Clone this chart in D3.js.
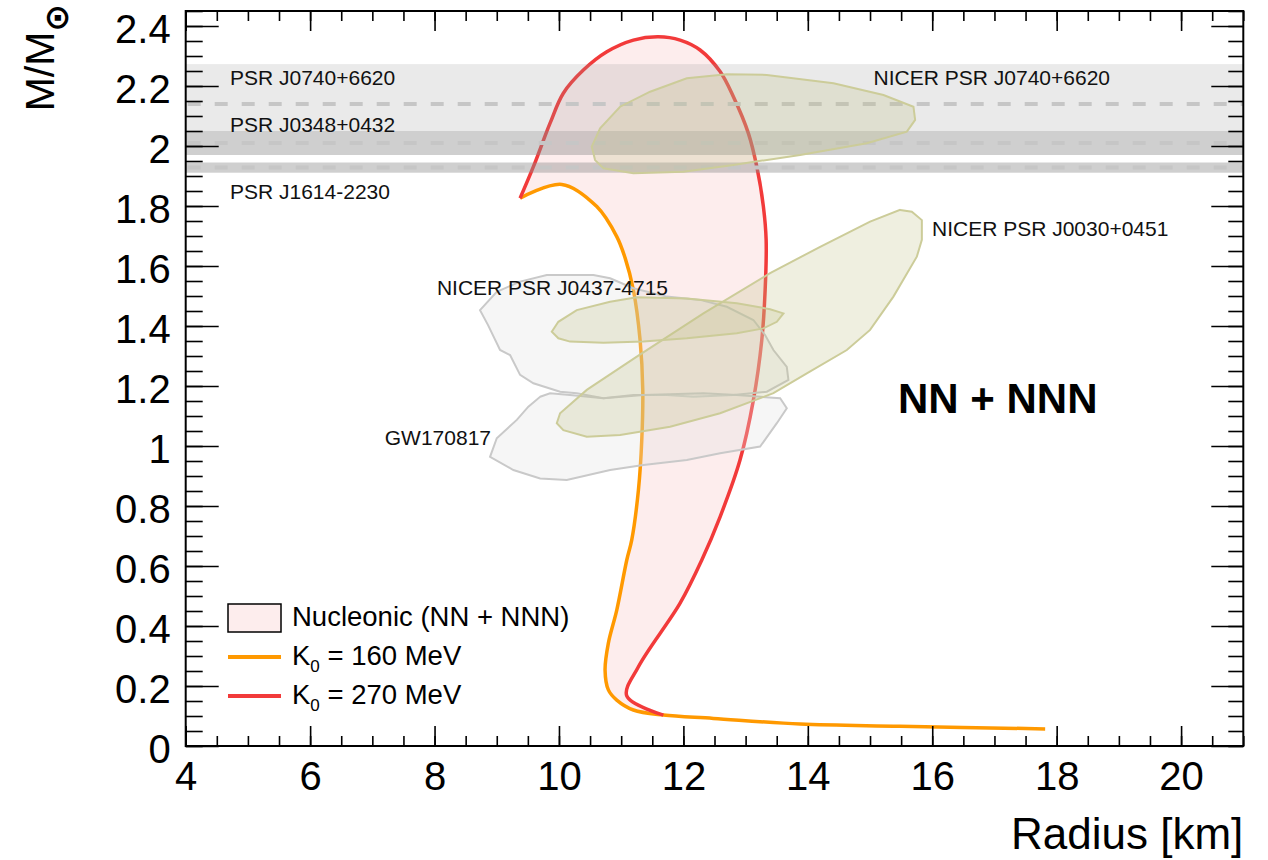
<!DOCTYPE html>
<html>
<head>
<meta charset="utf-8">
<script src="https://cdn.jsdelivr.net/npm/d3@7"></script>
<style>
  body { margin: 0; background: #fff; }
  svg { display: block; font-family: 'Liberation Sans', Arial, Helvetica, sans-serif; }
  .lbl { font-size: 21px; fill: #111; }
  .tick text { font-size: 40px; fill: #000; }
</style>
</head>
<body>
<div id="chart"></div>
<script>
// mass-radius curves, [radius km, mass Msun]
const curveK160 = [
  [9.375, 1.826], [10.045, 1.872], [10.608, 1.798], [10.929, 1.698], [11.063, 1.627],
  [11.196, 1.52], [11.304, 1.353], [11.347, 1.187], [11.331, 1.02], [11.277, 0.853],
  [11.17, 0.687], [11.09, 0.62], [10.929, 0.453], [10.794, 0.343], [10.741, 0.253],
  [10.794, 0.187], [10.929, 0.153], [11.196, 0.12], [11.678, 0.103], [12.482, 0.092],
  [13.876, 0.073], [15.48, 0.066], [17.815, 0.057],
];
const curveK270 = [
  [11.678, 0.103], [11.09, 0.167], [11.277, 0.264], [11.947, 0.476], [12.296, 0.62],
  [12.59, 0.764], [12.91, 0.953], [13.125, 1.153], [13.26, 1.353], [13.314, 1.52],
  [13.33, 1.687], [13.286, 1.798], [13.18, 1.931], [13.045, 2.042], [12.804, 2.164],
  [12.59, 2.248], [12.268, 2.32], [11.947, 2.353], [11.598, 2.364], [11.196, 2.353],
  [10.769, 2.314], [10.392, 2.253], [10.07, 2.176], [9.857, 2.076], [9.589, 1.931],
  [9.375, 1.826],
];

// GW170817 contours
const gwUpper = [
  [8.731, 1.453], [9.0, 1.514], [9.375, 1.548], [9.804, 1.57], [10.553, 1.57], [10.822, 1.559],
  [11.196, 1.526], [11.733, 1.498], [12.268, 1.487], [12.698, 1.464], [13.125, 1.42],
  [13.313, 1.37], [13.447, 1.32], [13.662, 1.264], [13.688, 1.22], [13.341, 1.181],
  [12.804, 1.17], [12.161, 1.164], [11.733, 1.17], [11.196, 1.17], [10.714, 1.159],
  [10.286, 1.176], [10.018, 1.181], [9.589, 1.209], [9.375, 1.237], [9.214, 1.303],
  [9.053, 1.32], [8.86, 1.403],
];
const gwLower = [
  [9.697, 1.164], [9.857, 1.176], [10.178, 1.17], [10.714, 1.159], [11.357, 1.17],
  [12.322, 1.176], [12.859, 1.17], [13.555, 1.159], [13.662, 1.126], [13.502, 1.076],
  [13.233, 0.998], [12.59, 0.976], [12.055, 0.953], [11.357, 0.937], [10.822, 0.92],
  [10.125, 0.887], [9.697, 0.892], [9.267, 0.92], [8.892, 0.964], [9.0, 1.026],
  [9.322, 1.087], [9.508, 1.131],
];

// NICER contours
const nicerJ0740 = [
  [10.527, 1.998], [10.661, 2.059], [10.982, 2.131], [11.465, 2.181], [12.055, 2.226],
  [12.698, 2.239], [13.341, 2.237], [14.412, 2.209], [15.216, 2.17], [15.698, 2.131],
  [15.725, 2.087], [15.592, 2.048], [14.949, 2.009], [13.876, 1.97], [12.804, 1.937],
  [12.0, 1.914], [11.196, 1.909], [10.714, 1.926], [10.58, 1.953],
];
const nicerJ0030 = [
  [15.484, 1.787], [15.672, 1.781], [15.833, 1.753], [15.833, 1.687], [15.752, 1.631],
  [15.376, 1.498], [15.001, 1.387], [14.627, 1.32], [13.984, 1.242], [13.447, 1.176],
  [12.59, 1.109], [11.786, 1.064], [10.982, 1.037], [10.447, 1.031], [10.071, 1.053],
  [9.965, 1.076], [10.018, 1.109], [10.447, 1.187], [11.251, 1.298], [12.322, 1.442],
  [13.394, 1.576], [14.198, 1.664], [15.001, 1.748],
];
const nicerJ0437 = [
  [9.884, 1.381], [9.99, 1.414], [10.286, 1.453], [10.822, 1.481], [11.251, 1.496],
  [12.055, 1.492], [12.859, 1.476], [13.394, 1.456], [13.608, 1.442], [13.502, 1.414],
  [13.286, 1.392], [12.859, 1.376], [12.055, 1.359], [11.357, 1.348], [10.714, 1.344],
  [10.178, 1.348], [9.99, 1.359],
];

// pulsar mass measurements
const bandNames = ['PSR J0740+6620', 'PSR J0348+0432', 'PSR J1614-2230'];
const bandCenters = [2.14, 2.01, 1.928];
const bandLow = [2.05, 1.97, 1.911];
const bandHigh = [2.273, 2.05, 1.945];

const xMajorTicks = [4, 6, 8, 10, 12, 14, 16, 18, 20];
const yMajorTicks = [0, 0.2, 0.4, 0.6, 0.8, 1, 1.2, 1.4, 1.6, 1.8, 2, 2.2, 2.4];

const W = 1268;
const H = 860;
const frameLeft = 185.7;
const frameRight = 1243.3;
const frameTop = 11;
const frameBottom = 746;

const x = d3.scaleLinear().domain([4, 21]).range([frameLeft, frameRight]);
const y = d3.scaleLinear().domain([0, 2.45]).range([frameBottom, frameTop]);

const svg = d3.select('#chart').append('svg')
  .attr('width', W)
  .attr('height', H);

const smooth = d3.line().x(d => x(d[0])).y(d => y(d[1])).curve(d3.curveCatmullRom);
const closed = d3.line().x(d => x(d[0])).y(d => y(d[1])).curve(d3.curveLinearClosed);

const plot = svg.append('g');

// nucleonic band between the two curves
const joint = curveK160.findIndex(d => d[0] === curveK270[0][0] && d[1] === curveK270[0][1]);
const orangeSeg = curveK160.slice(0, joint + 1);
plot.append('path')
  .attr('d', `${smooth(curveK270)}L${smooth(orangeSeg).slice(1)}Z`)
  .attr('fill', '#fdeded')
  .attr('stroke', 'none');

plot.append('path')
  .attr('d', smooth(curveK160))
  .attr('fill', 'none')
  .attr('stroke', '#ff9900')
  .attr('stroke-width', 3.5);

plot.append('path')
  .attr('d', smooth(curveK270))
  .attr('fill', 'none')
  .attr('stroke', '#f23a3a')
  .attr('stroke-width', 3.5);

// pulsar bands
const bandFill = ['rgba(150,150,150,0.2)', 'rgba(140,140,140,0.42)', 'rgba(140,140,140,0.42)'];
bandNames.forEach((name, i) => {
  plot.append('rect')
    .attr('x', frameLeft)
    .attr('width', frameRight - frameLeft)
    .attr('y', y(bandHigh[i]))
    .attr('height', y(bandLow[i]) - y(bandHigh[i]))
    .attr('fill', bandFill[i]);
  plot.append('line')
    .attr('x1', frameLeft + 2)
    .attr('x2', frameRight)
    .attr('y1', y(bandCenters[i]))
    .attr('y2', y(bandCenters[i]))
    .attr('stroke', '#c6c6c6')
    .attr('stroke-width', 4)
    .attr('stroke-dasharray', '13,14');
});

// GW170817
[gwUpper, gwLower].forEach((shape) => {
  plot.append('path')
    .attr('d', closed(shape))
    .attr('fill', 'rgba(225,225,225,0.3)')
    .attr('stroke', '#c9c9c9')
    .attr('stroke-width', 2);
});

// NICER
[nicerJ0740, nicerJ0030, nicerJ0437].forEach((shape) => {
  plot.append('path')
    .attr('d', closed(shape))
    .attr('fill', 'rgba(190,190,130,0.25)')
    .attr('stroke', '#cccc99')
    .attr('stroke-width', 2);
});

// labels
const labels = [
  { t: 'PSR J0740+6620', x: 230, y: 85, a: 'start' },
  { t: 'PSR J0348+0432', x: 230, y: 132, a: 'start' },
  { t: 'PSR J1614-2230', x: 230, y: 199, a: 'start' },
  { t: 'NICER PSR J0740+6620', x: 1110, y: 85, a: 'end' },
  { t: 'NICER PSR J0030+0451', x: 932, y: 236, a: 'start' },
  { t: 'NICER PSR J0437-4715', x: 668, y: 295, a: 'end' },
  { t: 'GW170817', x: 491, y: 445, a: 'end' },
];
svg.selectAll('.lbl')
  .data(labels)
  .enter().append('text')
  .attr('class', 'lbl')
  .attr('x', d => d.x)
  .attr('y', d => d.y)
  .attr('text-anchor', d => d.a)
  .text(d => d.t);

svg.append('text')
  .attr('x', 898)
  .attr('y', 413)
  .attr('font-size', 42)
  .attr('font-weight', 'bold')
  .text('NN + NNN');

// axes, ticks inside on all four sides
const xMinor = d3.range(0, 35).map(i => 4 + i * 0.5);
const yMinor = d3.range(0, 50).map(i => i * 0.05);

const fmt = d => String(+d.toFixed(1));

svg.append('g')
  .attr('transform', `translate(0,${frameBottom})`)
  .call(d3.axisBottom(x).tickValues(xMinor).tickSize(-10).tickFormat(''));
svg.append('g')
  .attr('class', 'xaxis')
  .attr('transform', `translate(0,${frameBottom})`)
  .call(d3.axisBottom(x).tickValues(xMajorTicks).tickSize(-20).tickPadding(16).tickFormat(fmt));
svg.append('g')
  .attr('transform', `translate(0,${frameTop})`)
  .call(d3.axisTop(x).tickValues(xMinor).tickSize(-10).tickFormat(''));
svg.append('g')
  .attr('transform', `translate(0,${frameTop})`)
  .call(d3.axisTop(x).tickValues(xMajorTicks).tickSize(-20).tickFormat(''));

svg.append('g')
  .attr('transform', `translate(${frameLeft},0)`)
  .call(d3.axisLeft(y).tickValues(yMinor).tickSize(-17).tickFormat(''));
svg.append('g')
  .attr('class', 'yaxis')
  .attr('transform', `translate(${frameLeft},0)`)
  .call(d3.axisLeft(y).tickValues(yMajorTicks).tickSize(-33).tickPadding(15).tickFormat(fmt));
svg.append('g')
  .attr('transform', `translate(${frameRight},0)`)
  .call(d3.axisRight(y).tickValues(yMinor).tickSize(-15).tickFormat(''));
svg.append('g')
  .attr('transform', `translate(${frameRight},0)`)
  .call(d3.axisRight(y).tickValues(yMajorTicks).tickSize(-32).tickFormat(''));

svg.selectAll('.domain').remove();
svg.selectAll('.tick line').attr('stroke', '#000').attr('stroke-width', 1.6);
svg.selectAll('.tick text').attr('font-family', null).attr('font-size', null);
svg.selectAll('.yaxis .tick text').attr('dy', '0.41em');

svg.append('rect')
  .attr('x', frameLeft)
  .attr('y', frameTop)
  .attr('width', frameRight - frameLeft)
  .attr('height', frameBottom - frameTop)
  .attr('fill', 'none')
  .attr('stroke', '#000')
  .attr('stroke-width', 2);

// axis titles
svg.append('text')
  .attr('x', frameRight)
  .attr('y', 849)
  .attr('text-anchor', 'end')
  .attr('font-size', 44)
  .text('Radius [km]');

const ytitle = svg.append('text')
  .attr('transform', 'translate(54,4) rotate(-90)')
  .attr('text-anchor', 'end')
  .attr('font-size', 41);
ytitle.append('tspan').text('M/M');
ytitle.append('tspan')
  .attr('dy', 14)
  .attr('font-size', 33)
  .attr('font-family', 'DejaVu Sans')
  .attr('font-weight', 'bold')
  .text('\u2299');

// legend
const legendItems = [
  { kind: 'box', label: 'Nucleonic (NN + NNN)', sub: null },
  { kind: 'line', color: '#ff9900', label: 'K', sub: '0', rest: ' = 160 MeV' },
  { kind: 'line', color: '#f23a3a', label: 'K', sub: '0', rest: ' = 270 MeV' },
];
const legend = svg.selectAll('.legend')
  .data(legendItems)
  .enter().append('g')
  .attr('class', 'legend')
  .attr('transform', (d, i) => `translate(228, ${618 + i * 39})`);

legend.filter(d => d.kind === 'box').append('rect')
  .attr('x', 0)
  .attr('y', -14)
  .attr('width', 53)
  .attr('height', 28)
  .attr('fill', '#fdeded')
  .attr('stroke', '#000')
  .attr('stroke-width', 1.5);

legend.filter(d => d.kind === 'line').append('line')
  .attr('x1', 0)
  .attr('x2', 53)
  .attr('y1', 0)
  .attr('y2', 0)
  .attr('stroke', d => d.color)
  .attr('stroke-width', 4);

const ltext = legend.append('text')
  .attr('x', 64)
  .attr('y', 8)
  .attr('font-size', 27.5);
ltext.append('tspan').text(d => d.label);
ltext.filter(d => d.sub).append('tspan')
  .attr('dy', 7)
  .attr('font-size', 17)
  .text(d => d.sub);
ltext.filter(d => d.sub).append('tspan')
  .attr('dy', -7)
  .text(d => d.rest);
</script>
</body>
</html>
